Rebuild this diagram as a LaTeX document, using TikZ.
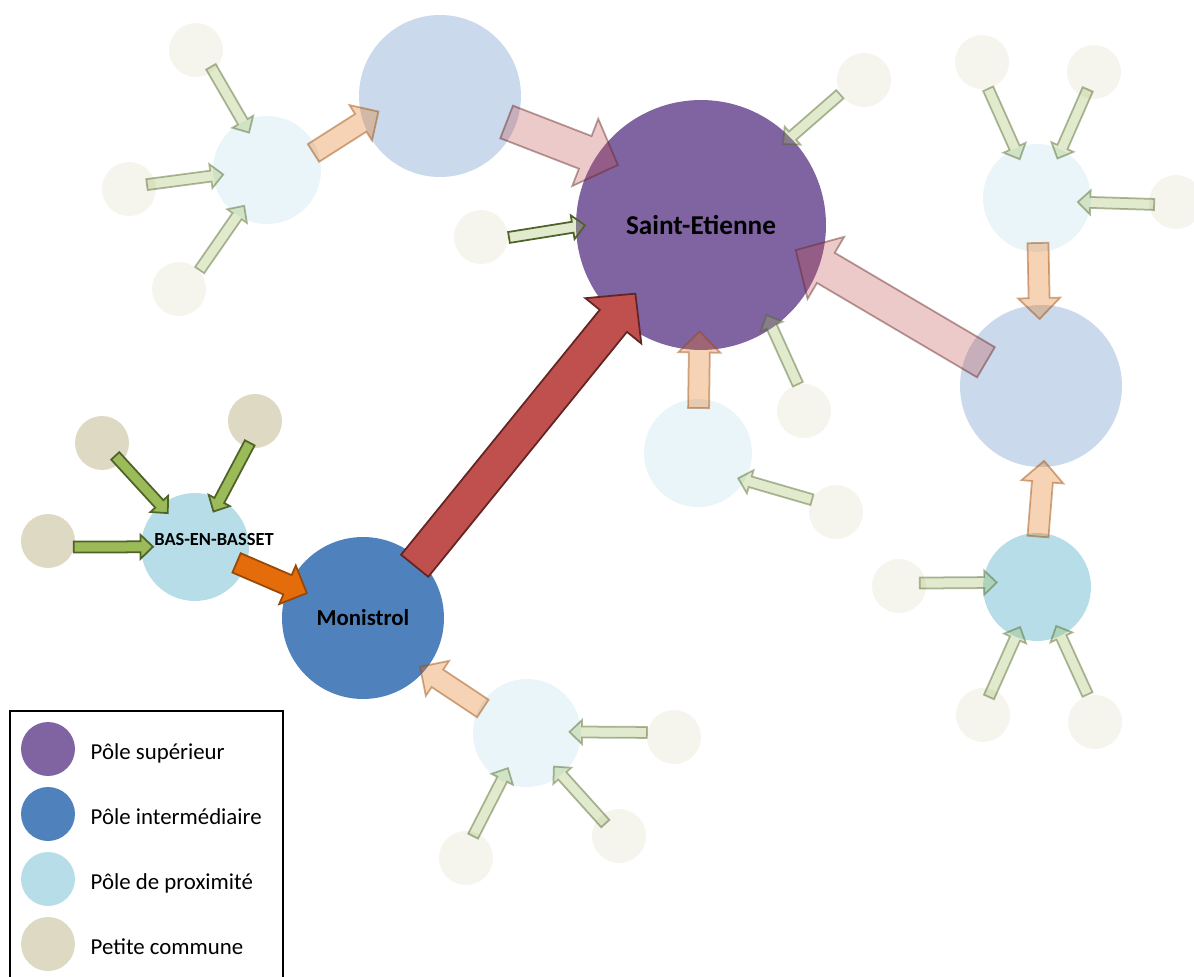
\documentclass[tikz,border=0pt]{standalone}
\usepackage{fontspec}
\setmainfont{Carlito}
\usetikzlibrary{calc,positioning}

\definecolor{superieur}{HTML}{8064A2}
\definecolor{intermed}{HTML}{4F81BD}
\definecolor{proximite}{HTML}{B7DEE8}
\definecolor{commune}{HTML}{DDD9C3}
\definecolor{flowred}{HTML}{C0504D}
\definecolor{flowredline}{HTML}{632523}
\definecolor{floworange}{HTML}{E46C0A}
\definecolor{floworangeline}{HTML}{984807}
\definecolor{flowgreen}{HTML}{9BBB59}
\definecolor{flowgreenline}{HTML}{4F6228}

\tikzset{
  flowshaft/.store in=\flowshaft, flowhead/.store in=\flowhead, flowlen/.store in=\flowlen,
  major flow/.style={flowshaft=0.35cm, flowhead=0.72cm, flowlen=0.70cm, line width=1pt},
  mid flow/.style={flowshaft=0.21cm, flowhead=0.42cm, flowlen=0.42cm, line width=1pt},
  minor flow/.style={flowshaft=0.11cm, flowhead=0.24cm, flowlen=0.25cm, line width=1pt},
  faded/.style={fill opacity=0.3, draw opacity=0.45},
  red flow/.style={major flow, fill=flowred, draw=flowredline},
  pink flow/.style={red flow, faded},
  orange flow/.style={mid flow, fill=floworange, draw=floworangeline},
  pale orange flow/.style={orange flow, faded},
  green flow/.style={minor flow, fill=flowgreen, draw=flowgreenline},
  pale green flow/.style={green flow, faded},
  half green flow/.style={green flow, fill opacity=0.3},
  pole/.style={circle, inner sep=0pt, font=\bfseries},
  big pole/.style={pole, minimum size=5cm, fill=superieur},
  mid pole/.style={pole, minimum size=3.24cm, fill=intermed},
  small pole/.style={pole, minimum size=2.16cm, fill=proximite},
  village/.style={pole, minimum size=1.08cm, fill=commune},
  pale mid pole/.style={mid pole, fill=intermed!30},
  pale small pole/.style={small pole, fill=proximite!30},
  pale village/.style={village, fill=commune!30},
  legtext/.style={anchor=base west, inner sep=0pt, font=\fontsize{13}{15}\selectfont},
}

% block arrow: style, from, to, tail dist, tail turn, tip dist, tip turn
\newcommand{\flowarrow}[7]{%
  \begin{scope}[#1]
    \coordinate (fa-t) at ($(#2)!#4!#5:(#3)$);
    \coordinate (fa-p) at ($(#3)!#6!#7:(#2)$);
    \coordinate (fa-h) at ($(fa-p)!\flowlen!(fa-t)$);
    \filldraw ($(fa-t)!\flowshaft!90:(fa-p)$) -- ($(fa-h)!\flowshaft!-90:(fa-t)$)
      -- ($(fa-h)!\flowhead!-90:(fa-t)$) -- (fa-p) -- ($(fa-h)!\flowhead!90:(fa-t)$)
      -- ($(fa-h)!\flowshaft!90:(fa-t)$) -- ($(fa-t)!\flowshaft!-90:(fa-p)$) -- cycle;
  \end{scope}}

\begin{document}
\begin{tikzpicture}[x=0.02cm, y=-0.02cm]
\useasboundingbox (0,0) rectangle (1194,977);
% main poles
\node[big pole, font=\bfseries\fontsize{15.5}{18}\selectfont] (se) at (701,225) {Saint-Etienne};
\node[mid pole, font=\bfseries\fontsize{13}{15}\selectfont] (mon) at (363,618) {Monistrol};
\node[small pole, label={[font=\bfseries\fontsize{10.5}{12}\selectfont, xshift=0.38cm, yshift=0.14cm]center:BAS-EN-BASSET}] (bas) at (195,547) {};
\node[village] (bas-a) at (48,541) {};
\node[village] (bas-b) at (102,443) {};
\node[village] (bas-c) at (255,421) {};
% faded network, north-west
\node[pale mid pole] (nwpole) at (440,96) {};
\node[pale small pole] (nw) at (267,170) {};
\node[pale village] (nw-a) at (196,50) {};
\node[pale village] (nw-b) at (129,189) {};
\node[pale village] (nw-c) at (179,289) {};
% around Saint-Etienne
\node[pale village] (se-a) at (481,237) {};
\node[pale village] (se-b) at (864,80) {};
\node[pale village] (se-c) at (804,411) {};
\node[pale small pole] (s) at (698,453) {};
\node[pale village] (s-a) at (836,512) {};
% east
\node[pale small pole] (e) at (1037,198) {};
\node[pale village] (e-a) at (982,62) {};
\node[pale village] (e-b) at (1094,72) {};
\node[pale village] (e-c) at (1176,202) {};
\node[pale mid pole] (epole) at (1041,386) {};
\node[small pole] (ee) at (1037,587) {};
\node[pale village] (ee-a) at (899,586) {};
\node[pale village] (ee-b) at (983,715) {};
\node[pale village] (ee-c) at (1095,722) {};
% south
\node[pale small pole] (sw) at (527,733) {};
\node[pale village] (sw-a) at (674,737) {};
\node[pale village] (sw-b) at (466,858) {};
\node[pale village] (sw-c) at (619,836) {};

% faded flows
\flowarrow{pale green flow}{nw-a}{nw}{0.45cm}{11}{0.83cm}{-5}
\flowarrow{pale green flow}{nw-b}{nw}{0.37cm}{6}{0.88cm}{-2}
\flowarrow{pale green flow}{nw-c}{nw}{0.56cm}{-11}{0.85cm}{4}
\flowarrow{pale orange flow}{nw}{nwpole}{0.99cm}{-3}{1.27cm}{-9}
\flowarrow{pink flow}{nwpole}{se}{1.43cm}{5}{2.05cm}{-9.5}
\flowarrow{pale green flow}{se-b}{se}{0.56cm}{-11}{2.31cm}{3}
\flowarrow{half green flow}{se-a}{se}{0.56cm}{-4}{2.32cm}{-3}
\flowarrow{pale orange flow}{s}{se}{0.90cm}{0}{2.13cm}{0}
\flowarrow{pale green flow}{se-c}{se}{0.55cm}{-16}{2.23cm}{7}
\flowarrow{pale green flow}{s-a}{s}{0.54cm}{-4}{0.95cm}{-9}
\flowarrow{pink flow}{epole}{se}{1.20cm}{2}{1.96cm}{10.5}
\flowarrow{pale green flow}{e-a}{e}{0.55cm}{-9}{0.85cm}{2}
\flowarrow{pale green flow}{e-b}{e}{0.37cm}{4.5}{0.89cm}{-3}
\flowarrow{pale green flow}{e-c}{e}{0.44cm}{8}{0.82cm}{-4}
\flowarrow{pale orange flow}{e}{epole}{0.90cm}{0}{1.34cm}{0}
\flowarrow{pale orange flow}{ee}{epole}{1.01cm}{0}{1.50cm}{3.5}
\flowarrow{pale green flow}{ee-a}{ee}{0.42cm}{8.5}{0.81cm}{-6}
\flowarrow{pale green flow}{ee-b}{ee}{0.38cm}{4.5}{0.87cm}{0}
\flowarrow{pale green flow}{ee-c}{ee}{0.57cm}{-8}{0.87cm}{3}
\flowarrow{pale orange flow}{sw}{mon}{1.01cm}{6}{1.50cm}{-5.5}
\flowarrow{pale green flow}{sw-a}{sw}{0.55cm}{-8}{0.85cm}{3}
\flowarrow{pale green flow}{sw-b}{sw}{0.46cm}{8}{0.80cm}{-2.5}
\flowarrow{pale green flow}{sw-c}{sw}{0.37cm}{6}{0.86cm}{-3}

% highlighted flows
\flowarrow{green flow}{bas-a}{bas}{0.53cm}{-11}{0.84cm}{2}
\flowarrow{green flow}{bas-b}{bas}{0.37cm}{4}{0.87cm}{-3}
\flowarrow{green flow}{bas-c}{bas}{0.45cm}{12}{0.80cm}{-2}
\flowarrow{orange flow}{bas}{mon}{0.89cm}{2}{1.23cm}{-1}
\flowarrow{red flow}{mon}{se}{1.47cm}{-4}{1.90cm}{-3}

% legend
\draw[line width=1.1pt] (10,711) rectangle (283,990);
\node[big pole, minimum size=1.08cm] (leg1) at (48,749) {};
\node[mid pole, minimum size=1.08cm] (leg2) at (48,814) {};
\node[small pole, minimum size=1.08cm] (leg3) at (48,879) {};
\node[village] (leg4) at (48,944) {};
\node[legtext] (leg1-t) at ([xshift=0.3cm, yshift=-0.2cm]leg1.east) {Pôle supérieur};
\node[legtext] (leg2-t) at ([xshift=0.3cm, yshift=-0.2cm]leg2.east) {Pôle intermédiaire};
\node[legtext] (leg3-t) at ([xshift=0.3cm, yshift=-0.2cm]leg3.east) {Pôle de proximité};
\node[legtext] (leg4-t) at ([xshift=0.3cm, yshift=-0.2cm]leg4.east) {Petite commune};
\end{tikzpicture}
\end{document}
